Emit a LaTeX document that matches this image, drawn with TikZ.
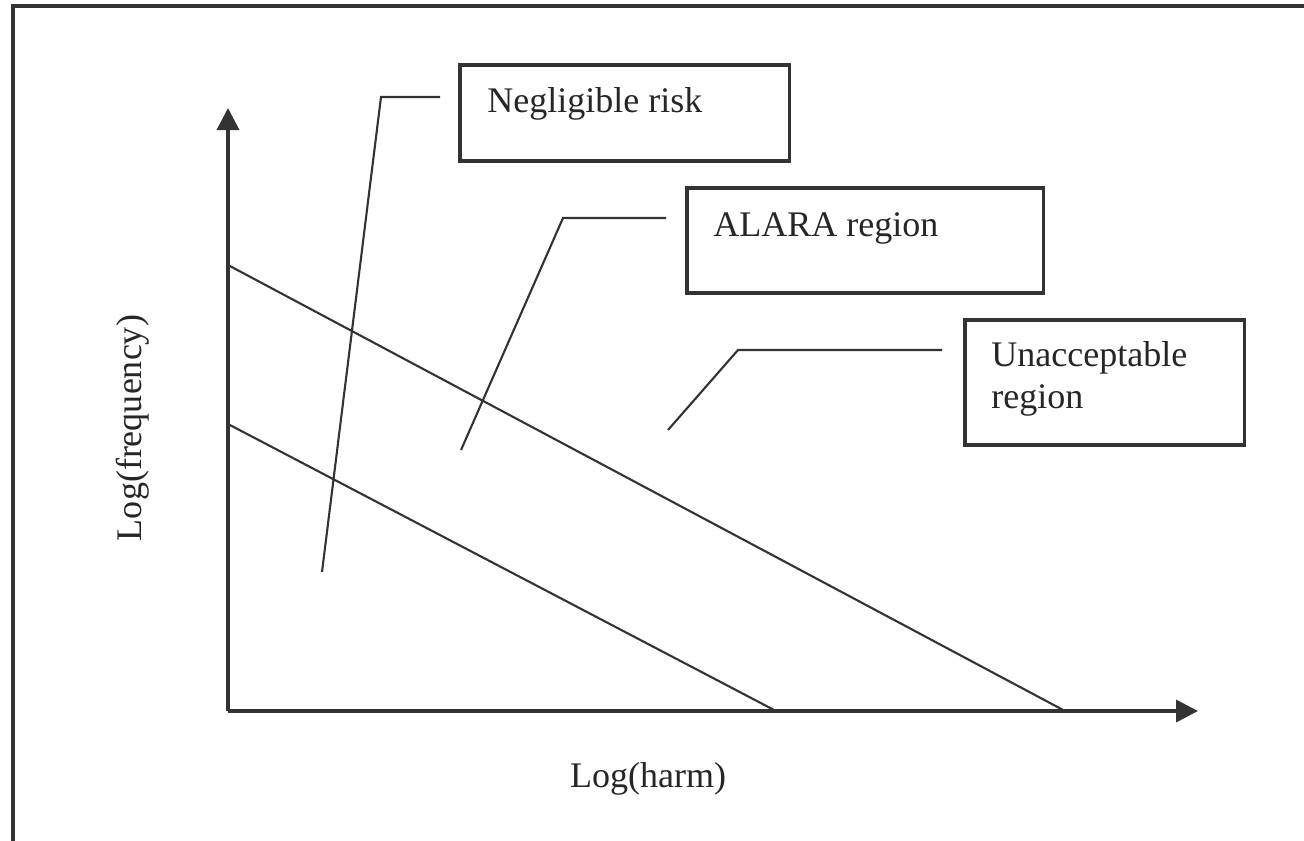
\documentclass[tikz,border=0pt]{standalone}
\usepackage{fontspec}
\setmainfont{Liberation Serif}
\usetikzlibrary{positioning}
\usetikzlibrary{arrows.meta}

\begin{document}
\begin{tikzpicture}[
        x=0.02cm, y=-0.02cm,
        % Define a standard style for the label boxes
        riskbox/.style={draw=black!80, line width=2pt, inner sep=0pt,
        anchor=north west},
        % Style for the text inside the boxes
        boxtext/.style={font=\fontsize{20.5}{23.8}\selectfont, text=black!85,
        anchor=base west, inner sep=0pt, align=left},
        % Axes and lines
        axis/.style={draw=black!80, line width=2pt,
        -{Triangle[length=0.44cm, width=0.44cm]}},
        limit/.style={draw=black!80, line width=1.2pt},
        leader/.style={draw=black!80, line width=1.2pt}
    ]

    \useasboundingbox (0,0) rectangle (1304,840);
    % --- Outer frame (cut at right and bottom) ---
    \draw[black!80, line width=2.2pt] (13,6) rectangle (1330,870);

    % --- Axes ---
    \coordinate (origin) at (228,711);
    \coordinate (ytip) at (228,108);
    \coordinate (xtip) at (1198,711);
    \draw[axis] (origin) -- (ytip);
    \draw[axis] (origin) -- (xtip);
    \node[font=\fontsize{20.5}{23.8}\selectfont, text=black!85, rotate=90] (ylabel) at (133,428) {Log(frequency)};
    \node[boxtext, anchor=base] (xlabel) at (648,787) {Log(harm)};

    % --- Limit lines ---
    \coordinate (upper_a) at (228,265);
    \coordinate (upper_b) at (1065,711);
    \coordinate (lower_a) at (228,424);
    \coordinate (lower_b) at (776,711);
    \draw[limit] (upper_a) -- (upper_b);
    \draw[limit] (lower_a) -- (lower_b);

    % --- Negligible risk box ---
    \node[riskbox, minimum width=6.6cm, minimum height=1.92cm] (negbox) at (458,63) {};
    \node[boxtext] (negtext) at (487,112) {Negligible risk};
    \coordinate (neg_start) at (440,97);
    \coordinate (neg_bend) at (381,97);
    \coordinate (neg_end) at (322,572);
    \draw[leader] (neg_start) -- (neg_bend) -- (neg_end);

    % --- ALARA box ---
    \node[riskbox, minimum width=7.14cm, minimum height=2.1cm] (alarabox) at (685,186) {};
    \node[boxtext] (alaratext) at (713,236) {ALARA region};
    \coordinate (alara_start) at (666,218);
    \coordinate (alara_bend) at (563,218);
    \coordinate (alara_end) at (461,450);
    \draw[leader] (alara_start) -- (alara_bend) -- (alara_end);

    % --- Unacceptable box ---
    % (base anchor sits on the last line)
    \node[riskbox, minimum width=5.6cm, minimum height=2.5cm] (unaccbox) at (963,318) {};
    \node[boxtext] (unacctext) at (991,408) {Unacceptable\\region};
    \coordinate (unacc_start) at (942,350);
    \coordinate (unacc_bend) at (738,350);
    \coordinate (unacc_end) at (668,430);
    \draw[leader] (unacc_start) -- (unacc_bend) -- (unacc_end);

    \end{tikzpicture}
\end{document}
